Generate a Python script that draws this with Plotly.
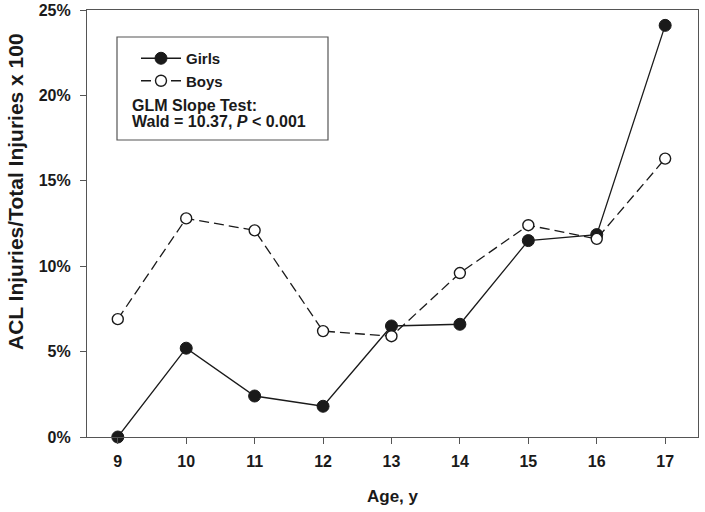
import plotly.graph_objects as go

ages = [9, 10, 11, 12, 13, 14, 15, 16, 17]
girls = [0.0, 5.2, 2.4, 1.8, 6.5, 6.6, 11.5, 11.85, 24.1]
boys = [6.9, 12.8, 12.1, 6.2, 5.9, 9.6, 12.4, 11.6, 16.3]
y_ticks = [0, 5, 10, 15, 20, 25]
y_ticklabels = ["0%", "5%", "10%", "15%", "20%", "25%"]

FONT = "Liberation Sans, Arial, sans-serif"
INK = "#1a1a1a"
AXC = "#555555"

fig = go.Figure()
fig.add_trace(go.Scatter(
    x=ages, y=girls, name="<b>Girls</b>", mode="lines+markers",
    line=dict(color=INK, width=1.3),
    marker=dict(symbol="circle", size=12, color=INK, line=dict(color=INK, width=1)),
    cliponaxis=False,
))
fig.add_trace(go.Scatter(
    x=ages, y=boys, name="<b>Boys</b>", mode="lines+markers",
    line=dict(color=INK, width=1.3, dash="10px,5px"),
    marker=dict(symbol="circle", size=11, color="white", line=dict(color=INK, width=1.4)),
    cliponaxis=False,
))

W, H = 705, 512
L, T, R, B = 87, 10, 7, 75
pw, ph = W - L - R, H - T - B

def px_x(x):
    return (x - L) / pw

def px_y(y):
    return (H - B - y) / ph

fig.add_shape(type="rect", xref="paper", yref="paper",
              x0=px_x(117), x1=px_x(328), y0=px_y(140), y1=px_y(37),
              line=dict(color=AXC, width=1.2), fillcolor="rgba(0,0,0,0)")

fig.add_annotation(xref="paper", yref="paper", x=px_x(130), y=px_y(105),
                   xanchor="left", yanchor="middle", showarrow=False,
                   text="<b>GLM Slope Test:</b>", font=dict(family=FONT, size=16, color=INK))
fig.add_annotation(xref="paper", yref="paper", x=px_x(130), y=px_y(122),
                   xanchor="left", yanchor="middle", showarrow=False,
                   text="<b>Wald = 10.37, <i>P</i> &lt; 0.001</b>", font=dict(family=FONT, size=16, color=INK))

# y-axis title (placed like in the reference, slightly above the plot centre)
fig.add_annotation(xref="paper", yref="paper", x=px_x(15), y=px_y(192),
                   xanchor="center", yanchor="middle", showarrow=False, textangle=-90,
                   text="<b>ACL Injuries/Total Injuries x 100</b>",
                   font=dict(family=FONT, size=21, color=INK))

fig.update_layout(
    template="none",
    width=W, height=H,
    margin=dict(l=L, r=R, t=T, b=B, pad=0),
    paper_bgcolor="white", plot_bgcolor="white",
    font=dict(family=FONT, size=16, color=INK),
    showlegend=True,
    hovermode=False,
    legend=dict(x=px_x(136), y=px_y(42), xanchor="left", yanchor="top",
                bgcolor="rgba(0,0,0,0)", borderwidth=0,
                font=dict(family=FONT, size=15, color=INK),
                tracegroupgap=0, itemwidth=40),
    xaxis=dict(range=[8.55, 17.48], tickmode="array", tickvals=ages,
               ticktext=[f"<b>{a}</b>" for a in ages],
               ticks="outside", ticklen=6, tickcolor=AXC, tickwidth=1,
               ticklabelstandoff=4,
               showline=True, linecolor=AXC, linewidth=1.2, mirror=True,
               showgrid=False, zeroline=False, automargin=False,
               title=dict(text="<b>Age, y</b>", font=dict(size=17), standoff=20)),
    yaxis=dict(range=[0, 25], tickmode="array", tickvals=y_ticks,
               ticktext=[f"<b>{t}</b>" for t in y_ticklabels],
               ticks="outside", ticklen=6, tickcolor=AXC, tickwidth=1,
               ticklabelstandoff=6, ticklabeloverflow="allow",
               showline=True, linecolor=AXC, linewidth=1.2, mirror=True,
               showgrid=False, zeroline=False, automargin=False),
)

fig.write_html("out.html", config={"displayModeBar": False},
               post_script="document.body.style.margin='0px';")
